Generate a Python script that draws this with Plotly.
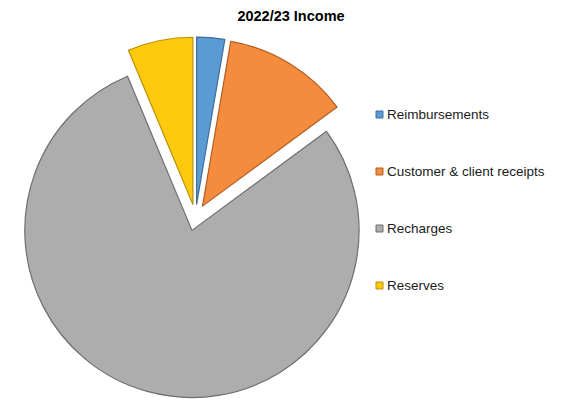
import plotly.graph_objects as go

# Income sources for 2022/23 (share of total, %)
categories = ["Reimbursements", "Customer & client receipts", "Recharges", "Reserves"]
values = [2.7, 12.2, 78.8, 6.3]
colors = ["#5B9BD5", "#F58B3C", "#ADADAD", "#FFC90E"]
edge_colors = ["#3F6F99", "#B25E22", "#6E6E6E", "#B8900A"]

W, H = 562, 403
FONT = "Liberation Sans, Arial, sans-serif"

fig = go.Figure()

fig.add_trace(go.Pie(
    labels=categories,
    values=values,
    sort=False,
    direction="clockwise",
    rotation=0,
    pull=[0.08] * len(values),
    marker=dict(colors=colors, line=dict(color=edge_colors, width=1.2)),
    textinfo="none",
    hoverinfo="label+percent",
    showlegend=False,
    domain=dict(x=[15 / W, 376 / W], y=[5 / H, 366 / H]),
))

# Key on the right: small swatch followed by the category name
key_x, key_top, key_step, sw = 376, 114.5, 57, 7
shapes, annotations = [], []
for i, (name, col, edge) in enumerate(zip(categories, colors, edge_colors)):
    yc = key_top + i * key_step
    shapes.append(dict(
        type="rect", xref="paper", yref="paper",
        x0=key_x / W, x1=(key_x + sw) / W,
        y0=1 - (yc + sw / 2) / H, y1=1 - (yc - sw / 2) / H,
        fillcolor=col, line=dict(color=edge, width=1),
    ))
    annotations.append(dict(
        text=name, xref="paper", yref="paper",
        x=(key_x + sw + 2) / W, xanchor="left",
        y=1 - yc / H, yanchor="middle",
        showarrow=False,
        font=dict(family=FONT, size=13.5, color="#1a1a1a"),
    ))

fig.update_layout(
    width=W,
    height=H,
    margin=dict(l=0, r=0, t=0, b=0),
    paper_bgcolor="white",
    plot_bgcolor="white",
    title=dict(
        text="<b>2022/23 Income</b>",
        x=291 / W, xanchor="center",
        y=1 - 16 / H, yanchor="middle",
        font=dict(family=FONT, size=14.5, color="#000000"),
    ),
    shapes=shapes,
    annotations=annotations,
    showlegend=False,
)

fig.write_html("out.html")
